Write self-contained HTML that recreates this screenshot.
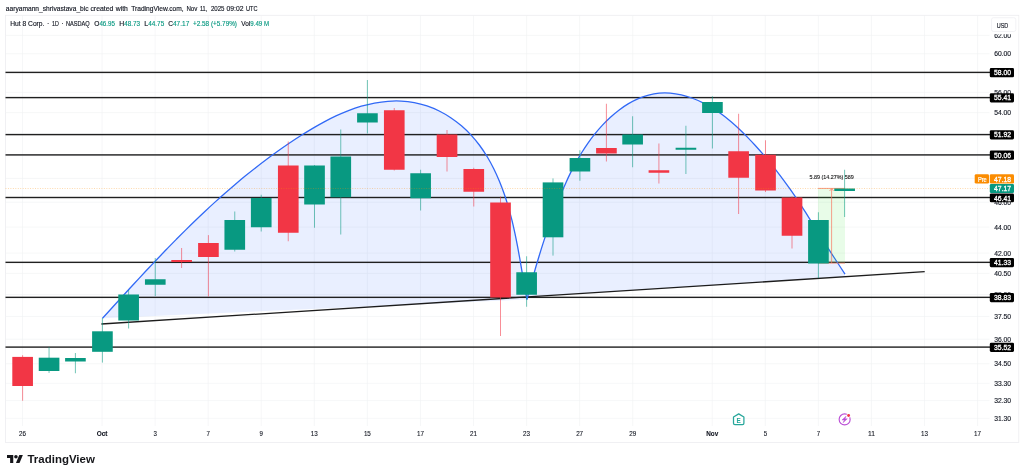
<!DOCTYPE html><html><head><meta charset="utf-8"><title>chart</title><style>html,body{margin:0;padding:0;background:#fff}body{width:1024px;height:476px;overflow:hidden}svg{display:block;will-change:transform}text{font-family:"Liberation Sans",sans-serif}</style></head><body>
<svg width="1024" height="476" viewBox="0 0 1024 476">
<rect width="1024" height="476" fill="#fff"/>
<rect x="5.5" y="15.3" width="1013.3" height="427.1" fill="#fff" stroke="#ededf0" stroke-width="0.8"/>
<g stroke="#f0f1f4" stroke-width="0.6">
<line x1="22.50" y1="15.3" x2="22.50" y2="426.0"/>
<line x1="102.09" y1="15.3" x2="102.09" y2="426.0"/>
<line x1="155.15" y1="15.3" x2="155.15" y2="426.0"/>
<line x1="208.21" y1="15.3" x2="208.21" y2="426.0"/>
<line x1="261.27" y1="15.3" x2="261.27" y2="426.0"/>
<line x1="314.33" y1="15.3" x2="314.33" y2="426.0"/>
<line x1="367.39" y1="15.3" x2="367.39" y2="426.0"/>
<line x1="420.45" y1="15.3" x2="420.45" y2="426.0"/>
<line x1="473.51" y1="15.3" x2="473.51" y2="426.0"/>
<line x1="526.57" y1="15.3" x2="526.57" y2="426.0"/>
<line x1="579.63" y1="15.3" x2="579.63" y2="426.0"/>
<line x1="632.69" y1="15.3" x2="632.69" y2="426.0"/>
<line x1="712.28" y1="15.3" x2="712.28" y2="426.0"/>
<line x1="765.34" y1="15.3" x2="765.34" y2="426.0"/>
<line x1="818.40" y1="15.3" x2="818.40" y2="426.0"/>
<line x1="871.46" y1="15.3" x2="871.46" y2="426.0"/>
<line x1="924.52" y1="15.3" x2="924.52" y2="426.0"/>
<line x1="977.58" y1="15.3" x2="977.58" y2="426.0"/>
<line x1="5.5" y1="35.42" x2="989.5" y2="35.42"/>
<line x1="5.5" y1="53.75" x2="989.5" y2="53.75"/>
<line x1="5.5" y1="72.70" x2="989.5" y2="72.70"/>
<line x1="5.5" y1="92.31" x2="989.5" y2="92.31"/>
<line x1="5.5" y1="112.64" x2="989.5" y2="112.64"/>
<line x1="5.5" y1="133.73" x2="989.5" y2="133.73"/>
<line x1="5.5" y1="155.65" x2="989.5" y2="155.65"/>
<line x1="5.5" y1="178.46" x2="989.5" y2="178.46"/>
<line x1="5.5" y1="202.25" x2="989.5" y2="202.25"/>
<line x1="5.5" y1="227.10" x2="989.5" y2="227.10"/>
<line x1="5.5" y1="253.10" x2="989.5" y2="253.10"/>
<line x1="5.5" y1="273.42" x2="989.5" y2="273.42"/>
<line x1="5.5" y1="294.51" x2="989.5" y2="294.51"/>
<line x1="5.5" y1="316.44" x2="989.5" y2="316.44"/>
<line x1="5.5" y1="339.25" x2="989.5" y2="339.25"/>
<line x1="5.5" y1="363.70" x2="989.5" y2="363.70"/>
<line x1="5.5" y1="383.30" x2="989.5" y2="383.30"/>
<line x1="5.5" y1="400.60" x2="989.5" y2="400.60"/>
<line x1="5.5" y1="418.30" x2="989.5" y2="418.30"/>
</g>
<path d="M102.50 318.30 C104.02 316.63 108.58 311.61 111.63 308.27 C114.67 304.93 117.71 301.60 120.75 298.27 C123.80 294.94 126.84 291.61 129.89 288.29 C132.94 284.98 136.00 281.67 139.06 278.37 C142.13 275.07 145.19 271.78 148.27 268.50 C151.35 265.22 154.44 261.96 157.54 258.70 C160.63 255.45 163.74 252.21 166.87 248.99 C169.99 245.77 173.12 242.56 176.28 239.37 C179.43 236.19 182.59 233.02 185.78 229.87 C188.96 226.72 192.17 223.59 195.39 220.48 C198.61 217.37 201.85 214.29 205.12 211.23 C208.38 208.17 211.67 205.13 214.98 202.12 C218.29 199.11 221.62 196.13 224.98 193.18 C228.35 190.22 231.73 187.30 235.15 184.40 C238.57 181.51 242.01 178.64 245.48 175.81 C248.96 172.98 252.46 170.18 256.00 167.42 C259.54 164.66 263.11 161.93 266.72 159.24 C270.33 156.55 273.97 153.89 277.65 151.28 C281.33 148.66 285.05 146.08 288.80 143.55 C292.56 141.02 296.35 138.52 300.19 136.07 C304.03 133.62 307.91 131.20 311.83 128.87 C315.76 126.53 319.72 124.24 323.74 122.07 C327.76 119.91 331.83 117.82 335.95 115.90 C340.07 113.98 344.24 112.16 348.47 110.54 C352.69 108.92 356.99 107.44 361.32 106.20 C365.66 104.95 370.08 103.88 374.49 103.06 C378.90 102.25 383.37 101.63 387.81 101.30 C392.25 100.97 396.71 100.87 401.11 101.09 C405.52 101.30 409.92 101.77 414.23 102.57 C418.54 103.37 422.81 104.49 426.98 105.90 C431.14 107.30 435.24 109.03 439.20 110.99 C443.16 112.96 447.04 115.21 450.74 117.68 C454.45 120.14 458.04 122.87 461.44 125.78 C464.83 128.68 468.08 131.82 471.12 135.11 C474.17 138.40 477.02 141.89 479.70 145.50 C482.38 149.11 484.87 152.90 487.21 156.77 C489.56 160.64 491.72 164.66 493.76 168.74 C495.79 172.82 497.66 177.01 499.41 181.24 C501.16 185.46 502.77 189.77 504.26 194.08 C505.76 198.38 507.12 202.74 508.40 207.09 C509.67 211.44 510.83 215.81 511.92 220.18 C513.01 224.56 514.00 228.95 514.94 233.34 C515.89 237.74 516.75 242.14 517.60 246.55 C518.44 250.96 519.22 255.37 520.00 259.78 C520.78 264.20 521.51 268.62 522.27 273.03 C523.02 277.45 523.76 281.87 524.53 286.28 C525.30 290.69 526.50 297.30 526.90 299.50 Z" fill="#2962ff" fill-opacity="0.10"/>
<path d="M526.90 299.50 C527.38 297.70 528.79 292.33 529.76 288.73 C530.74 285.13 531.73 281.52 532.74 277.90 C533.75 274.29 534.77 270.67 535.82 267.05 C536.88 263.44 537.95 259.82 539.04 256.20 C540.14 252.59 541.26 248.97 542.40 245.37 C543.55 241.77 544.71 238.17 545.91 234.58 C547.11 231.00 548.33 227.42 549.59 223.87 C550.84 220.31 552.12 216.77 553.43 213.24 C554.75 209.72 556.09 206.22 557.47 202.74 C558.84 199.26 560.25 195.80 561.70 192.38 C563.14 188.95 564.61 185.55 566.14 182.18 C567.67 178.81 569.24 175.47 570.88 172.16 C572.52 168.86 574.21 165.58 576.00 162.34 C577.79 159.10 579.65 155.89 581.62 152.73 C583.59 149.56 585.64 146.42 587.82 143.33 C590.00 140.24 592.29 137.16 594.69 134.18 C597.10 131.20 599.63 128.24 602.25 125.43 C604.87 122.61 607.61 119.86 610.44 117.28 C613.26 114.70 616.19 112.22 619.21 109.95 C622.22 107.69 625.33 105.55 628.52 103.67 C631.71 101.78 634.98 100.07 638.32 98.63 C641.66 97.20 645.09 95.97 648.57 95.06 C652.05 94.15 655.61 93.49 659.22 93.17 C662.83 92.85 666.52 92.86 670.21 93.15 C673.90 93.45 677.66 94.09 681.36 94.94 C685.06 95.78 688.78 96.93 692.40 98.25 C696.01 99.56 699.61 101.12 703.05 102.81 C706.49 104.49 709.83 106.37 713.05 108.36 C716.27 110.34 719.36 112.47 722.37 114.70 C725.38 116.92 728.27 119.27 731.11 121.69 C733.95 124.11 736.70 126.63 739.40 129.20 C742.11 131.76 744.75 134.41 747.36 137.08 C749.96 139.76 752.53 142.48 755.05 145.24 C757.58 148.00 760.07 150.80 762.52 153.64 C764.96 156.47 767.37 159.35 769.75 162.25 C772.12 165.15 774.45 168.09 776.75 171.06 C779.05 174.03 781.31 177.03 783.54 180.05 C785.77 183.07 787.96 186.12 790.11 189.19 C792.27 192.26 794.39 195.36 796.48 198.47 C798.57 201.58 800.62 204.72 802.66 207.86 C804.69 211.00 806.70 214.17 808.70 217.33 C810.70 220.49 812.68 223.67 814.66 226.85 C816.65 230.02 818.62 233.20 820.61 236.37 C822.61 239.54 824.60 242.72 826.61 245.88 C828.62 249.04 830.66 252.18 832.70 255.33 C834.74 258.48 836.81 261.61 838.86 264.76 C840.91 267.90 843.98 272.63 845.00 274.20 L845 276.8 L526.4 297 Z" fill="#2962ff" fill-opacity="0.10"/>
<rect x="5.5" y="71.70" width="984.5" height="1.4" fill="#202020"/>
<rect x="5.5" y="96.90" width="984.5" height="1.4" fill="#202020"/>
<rect x="5.5" y="133.90" width="984.5" height="1.4" fill="#202020"/>
<rect x="5.5" y="154.20" width="984.5" height="1.4" fill="#202020"/>
<rect x="5.5" y="196.80" width="984.5" height="1.4" fill="#202020"/>
<rect x="5.5" y="261.65" width="984.5" height="1.4" fill="#202020"/>
<rect x="5.5" y="296.65" width="984.5" height="1.4" fill="#202020"/>
<rect x="5.5" y="346.40" width="984.5" height="1.4" fill="#202020"/>
<line x1="101.4" y1="324.0" x2="924.7" y2="271.7" stroke="#1c1c1c" stroke-width="1.35"/>
<path d="M102.50 318.30 C104.02 316.63 108.58 311.61 111.63 308.27 C114.67 304.93 117.71 301.60 120.75 298.27 C123.80 294.94 126.84 291.61 129.89 288.29 C132.94 284.98 136.00 281.67 139.06 278.37 C142.13 275.07 145.19 271.78 148.27 268.50 C151.35 265.22 154.44 261.96 157.54 258.70 C160.63 255.45 163.74 252.21 166.87 248.99 C169.99 245.77 173.12 242.56 176.28 239.37 C179.43 236.19 182.59 233.02 185.78 229.87 C188.96 226.72 192.17 223.59 195.39 220.48 C198.61 217.37 201.85 214.29 205.12 211.23 C208.38 208.17 211.67 205.13 214.98 202.12 C218.29 199.11 221.62 196.13 224.98 193.18 C228.35 190.22 231.73 187.30 235.15 184.40 C238.57 181.51 242.01 178.64 245.48 175.81 C248.96 172.98 252.46 170.18 256.00 167.42 C259.54 164.66 263.11 161.93 266.72 159.24 C270.33 156.55 273.97 153.89 277.65 151.28 C281.33 148.66 285.05 146.08 288.80 143.55 C292.56 141.02 296.35 138.52 300.19 136.07 C304.03 133.62 307.91 131.20 311.83 128.87 C315.76 126.53 319.72 124.24 323.74 122.07 C327.76 119.91 331.83 117.82 335.95 115.90 C340.07 113.98 344.24 112.16 348.47 110.54 C352.69 108.92 356.99 107.44 361.32 106.20 C365.66 104.95 370.08 103.88 374.49 103.06 C378.90 102.25 383.37 101.63 387.81 101.30 C392.25 100.97 396.71 100.87 401.11 101.09 C405.52 101.30 409.92 101.77 414.23 102.57 C418.54 103.37 422.81 104.49 426.98 105.90 C431.14 107.30 435.24 109.03 439.20 110.99 C443.16 112.96 447.04 115.21 450.74 117.68 C454.45 120.14 458.04 122.87 461.44 125.78 C464.83 128.68 468.08 131.82 471.12 135.11 C474.17 138.40 477.02 141.89 479.70 145.50 C482.38 149.11 484.87 152.90 487.21 156.77 C489.56 160.64 491.72 164.66 493.76 168.74 C495.79 172.82 497.66 177.01 499.41 181.24 C501.16 185.46 502.77 189.77 504.26 194.08 C505.76 198.38 507.12 202.74 508.40 207.09 C509.67 211.44 510.83 215.81 511.92 220.18 C513.01 224.56 514.00 228.95 514.94 233.34 C515.89 237.74 516.75 242.14 517.60 246.55 C518.44 250.96 519.22 255.37 520.00 259.78 C520.78 264.20 521.51 268.62 522.27 273.03 C523.02 277.45 523.76 281.87 524.53 286.28 C525.30 290.69 526.50 297.30 526.90 299.50" fill="none" stroke="#3169f6" stroke-width="1.3" stroke-linejoin="round"/>
<path d="M526.90 299.50 C527.38 297.70 528.79 292.33 529.76 288.73 C530.74 285.13 531.73 281.52 532.74 277.90 C533.75 274.29 534.77 270.67 535.82 267.05 C536.88 263.44 537.95 259.82 539.04 256.20 C540.14 252.59 541.26 248.97 542.40 245.37 C543.55 241.77 544.71 238.17 545.91 234.58 C547.11 231.00 548.33 227.42 549.59 223.87 C550.84 220.31 552.12 216.77 553.43 213.24 C554.75 209.72 556.09 206.22 557.47 202.74 C558.84 199.26 560.25 195.80 561.70 192.38 C563.14 188.95 564.61 185.55 566.14 182.18 C567.67 178.81 569.24 175.47 570.88 172.16 C572.52 168.86 574.21 165.58 576.00 162.34 C577.79 159.10 579.65 155.89 581.62 152.73 C583.59 149.56 585.64 146.42 587.82 143.33 C590.00 140.24 592.29 137.16 594.69 134.18 C597.10 131.20 599.63 128.24 602.25 125.43 C604.87 122.61 607.61 119.86 610.44 117.28 C613.26 114.70 616.19 112.22 619.21 109.95 C622.22 107.69 625.33 105.55 628.52 103.67 C631.71 101.78 634.98 100.07 638.32 98.63 C641.66 97.20 645.09 95.97 648.57 95.06 C652.05 94.15 655.61 93.49 659.22 93.17 C662.83 92.85 666.52 92.86 670.21 93.15 C673.90 93.45 677.66 94.09 681.36 94.94 C685.06 95.78 688.78 96.93 692.40 98.25 C696.01 99.56 699.61 101.12 703.05 102.81 C706.49 104.49 709.83 106.37 713.05 108.36 C716.27 110.34 719.36 112.47 722.37 114.70 C725.38 116.92 728.27 119.27 731.11 121.69 C733.95 124.11 736.70 126.63 739.40 129.20 C742.11 131.76 744.75 134.41 747.36 137.08 C749.96 139.76 752.53 142.48 755.05 145.24 C757.58 148.00 760.07 150.80 762.52 153.64 C764.96 156.47 767.37 159.35 769.75 162.25 C772.12 165.15 774.45 168.09 776.75 171.06 C779.05 174.03 781.31 177.03 783.54 180.05 C785.77 183.07 787.96 186.12 790.11 189.19 C792.27 192.26 794.39 195.36 796.48 198.47 C798.57 201.58 800.62 204.72 802.66 207.86 C804.69 211.00 806.70 214.17 808.70 217.33 C810.70 220.49 812.68 223.67 814.66 226.85 C816.65 230.02 818.62 233.20 820.61 236.37 C822.61 239.54 824.60 242.72 826.61 245.88 C828.62 249.04 830.66 252.18 832.70 255.33 C834.74 258.48 836.81 261.61 838.86 264.76 C840.91 267.90 843.98 272.63 845.00 274.20" fill="none" stroke="#3169f6" stroke-width="1.3" stroke-linejoin="round"/>
<rect x="818" y="188.2" width="27" height="75" fill="#2fe02f" fill-opacity="0.11"/>
<g stroke="#f8705c" stroke-width="0.75" fill="none" opacity="0.9"><line x1="818" y1="188.4" x2="845" y2="188.4"/><line x1="818" y1="263.1" x2="845" y2="263.1"/><line x1="831.6" y1="263" x2="831.6" y2="188.6"/><path d="M829.6 191 L831.6 188.6 L833.6 191"/></g>
<rect x="22.10" y="355.20" width="1" height="45.55" fill="#f23645" opacity="0.56"/>
<rect x="12.30" y="356.90" width="20.65" height="29.10" fill="#f23645"/>
<rect x="48.55" y="347.00" width="1" height="25.90" fill="#089981" opacity="0.56"/>
<rect x="38.75" y="357.70" width="20.65" height="13.30" fill="#089981"/>
<rect x="74.90" y="353.00" width="1" height="20.25" fill="#089981" opacity="0.56"/>
<rect x="65.10" y="358.00" width="20.65" height="3.50" fill="#089981"/>
<rect x="101.90" y="318.00" width="1" height="44.60" fill="#089981" opacity="0.56"/>
<rect x="92.10" y="331.30" width="20.65" height="20.50" fill="#089981"/>
<rect x="128.10" y="290.00" width="1" height="38.50" fill="#089981" opacity="0.56"/>
<rect x="118.30" y="294.50" width="20.65" height="26.00" fill="#089981"/>
<rect x="154.75" y="258.00" width="1" height="38.00" fill="#089981" opacity="0.56"/>
<rect x="144.95" y="279.25" width="20.65" height="5.50" fill="#089981"/>
<rect x="181.10" y="248.00" width="1" height="20.00" fill="#f23645" opacity="0.56"/>
<rect x="171.30" y="260.00" width="20.65" height="2.00" fill="#f23645"/>
<rect x="207.90" y="235.10" width="1" height="61.40" fill="#f23645" opacity="0.56"/>
<rect x="198.10" y="243.00" width="20.65" height="14.00" fill="#f23645"/>
<rect x="234.25" y="211.50" width="1" height="40.00" fill="#089981" opacity="0.56"/>
<rect x="224.45" y="220.00" width="20.65" height="29.75" fill="#089981"/>
<rect x="260.70" y="194.75" width="1" height="36.75" fill="#089981" opacity="0.56"/>
<rect x="250.90" y="198.00" width="20.65" height="29.25" fill="#089981"/>
<rect x="287.75" y="141.50" width="1" height="99.75" fill="#f23645" opacity="0.56"/>
<rect x="277.95" y="165.50" width="20.65" height="67.25" fill="#f23645"/>
<rect x="314.00" y="165.00" width="1" height="62.75" fill="#089981" opacity="0.56"/>
<rect x="304.20" y="165.50" width="20.65" height="39.00" fill="#089981"/>
<rect x="340.25" y="129.50" width="1" height="105.00" fill="#089981" opacity="0.56"/>
<rect x="330.45" y="156.50" width="20.65" height="40.75" fill="#089981"/>
<rect x="366.90" y="80.00" width="1" height="53.50" fill="#089981" opacity="0.56"/>
<rect x="357.10" y="113.25" width="20.65" height="9.25" fill="#089981"/>
<rect x="393.75" y="108.00" width="1" height="62.50" fill="#f23645" opacity="0.56"/>
<rect x="383.95" y="110.25" width="20.65" height="59.50" fill="#f23645"/>
<rect x="420.10" y="169.75" width="1" height="40.75" fill="#089981" opacity="0.56"/>
<rect x="410.30" y="173.25" width="20.65" height="25.00" fill="#089981"/>
<rect x="446.50" y="130.00" width="1" height="41.50" fill="#f23645" opacity="0.56"/>
<rect x="436.70" y="134.50" width="20.65" height="22.50" fill="#f23645"/>
<rect x="473.25" y="167.75" width="1" height="38.75" fill="#f23645" opacity="0.56"/>
<rect x="463.45" y="169.00" width="20.65" height="22.75" fill="#f23645"/>
<rect x="500.00" y="196.50" width="1" height="139.50" fill="#f23645" opacity="0.56"/>
<rect x="490.20" y="202.50" width="20.65" height="95.00" fill="#f23645"/>
<rect x="526.10" y="256.25" width="1" height="50.50" fill="#089981" opacity="0.56"/>
<rect x="516.30" y="272.25" width="20.65" height="22.50" fill="#089981"/>
<rect x="552.50" y="178.40" width="1" height="77.20" fill="#089981" opacity="0.56"/>
<rect x="542.70" y="182.40" width="20.65" height="54.90" fill="#089981"/>
<rect x="579.40" y="150.25" width="1" height="30.50" fill="#089981" opacity="0.56"/>
<rect x="569.60" y="158.00" width="20.65" height="13.50" fill="#089981"/>
<rect x="605.90" y="103.75" width="1" height="57.75" fill="#f23645" opacity="0.56"/>
<rect x="596.10" y="148.00" width="20.65" height="5.50" fill="#f23645"/>
<rect x="632.10" y="116.25" width="1" height="51.00" fill="#089981" opacity="0.56"/>
<rect x="622.30" y="134.50" width="20.65" height="10.00" fill="#089981"/>
<rect x="658.40" y="143.50" width="1" height="40.00" fill="#f23645" opacity="0.56"/>
<rect x="648.60" y="170.25" width="20.65" height="2.50" fill="#f23645"/>
<rect x="685.40" y="125.75" width="1" height="48.25" fill="#089981" opacity="0.56"/>
<rect x="675.60" y="147.75" width="20.65" height="2.00" fill="#089981"/>
<rect x="711.90" y="96.25" width="1" height="52.25" fill="#089981" opacity="0.56"/>
<rect x="702.10" y="102.00" width="20.65" height="11.00" fill="#089981"/>
<rect x="738.10" y="113.75" width="1" height="100.25" fill="#f23645" opacity="0.56"/>
<rect x="728.30" y="151.25" width="20.65" height="26.50" fill="#f23645"/>
<rect x="765.00" y="140.25" width="1" height="51.75" fill="#f23645" opacity="0.56"/>
<rect x="755.20" y="154.75" width="20.65" height="35.75" fill="#f23645"/>
<rect x="791.50" y="196.50" width="1" height="52.00" fill="#f23645" opacity="0.56"/>
<rect x="781.70" y="197.50" width="20.65" height="38.25" fill="#f23645"/>
<rect x="817.90" y="212.25" width="1" height="65.75" fill="#089981" opacity="0.56"/>
<rect x="808.10" y="220.00" width="20.65" height="43.50" fill="#089981"/>
<rect x="844.10" y="169.75" width="1" height="47.25" fill="#089981" opacity="0.56"/>
<rect x="834.30" y="188.50" width="20.65" height="2.50" fill="#089981"/>
<line x1="5.5" y1="188.6" x2="989.8" y2="188.6" stroke="#fb8c00" stroke-width="0.6" stroke-dasharray="0.95 1.51" opacity="0.62"/>
<text x="809.4" y="178.8" font-size="5.7" fill="#1a1a1a" stroke="#1a1a1a" stroke-width="0.12" textLength="44.4" lengthAdjust="spacingAndGlyphs">5.89 (14.27%) 589</text>
<text x="5.80" y="10.7" font-size="7" fill="#131722" stroke="#131722" stroke-width="0.15" textLength="82.80" lengthAdjust="spacingAndGlyphs">aaryamann_shrivastava_bic</text>
<text x="90.40" y="10.7" font-size="7" fill="#131722" stroke="#131722" stroke-width="0.15" textLength="23.00" lengthAdjust="spacingAndGlyphs">created</text>
<text x="115.80" y="10.7" font-size="7" fill="#131722" stroke="#131722" stroke-width="0.15" textLength="12.10" lengthAdjust="spacingAndGlyphs">with</text>
<text x="131.20" y="10.7" font-size="7" fill="#131722" stroke="#131722" stroke-width="0.15" textLength="52.40" lengthAdjust="spacingAndGlyphs">TradingView.com,</text>
<text x="186.40" y="10.7" font-size="7" fill="#131722" stroke="#131722" stroke-width="0.15" textLength="11.00" lengthAdjust="spacingAndGlyphs">Nov</text>
<text x="199.90" y="10.7" font-size="7" fill="#131722" stroke="#131722" stroke-width="0.15" textLength="7.40" lengthAdjust="spacingAndGlyphs">11,</text>
<text x="210.90" y="10.7" font-size="7" fill="#131722" stroke="#131722" stroke-width="0.15" textLength="13.60" lengthAdjust="spacingAndGlyphs">2025</text>
<text x="226.50" y="10.7" font-size="7" fill="#131722" stroke="#131722" stroke-width="0.15" textLength="17.00" lengthAdjust="spacingAndGlyphs">09:02</text>
<text x="246.00" y="10.7" font-size="7" fill="#131722" stroke="#131722" stroke-width="0.15" textLength="11.50" lengthAdjust="spacingAndGlyphs">UTC</text>
<text x="10.25" y="26.00" font-size="7" fill="#131722" textLength="34.15" lengthAdjust="spacingAndGlyphs" stroke="#131722" stroke-width="0.15">Hut 8 Corp.</text>
<text x="47.30" y="26.00" font-size="7" fill="#131722" textLength="1.70" lengthAdjust="spacingAndGlyphs" stroke="#131722" stroke-width="0.15">·</text>
<text x="52.00" y="26.00" font-size="7" fill="#131722" textLength="6.80" lengthAdjust="spacingAndGlyphs" stroke="#131722" stroke-width="0.15">1D</text>
<text x="61.40" y="26.00" font-size="7" fill="#131722" textLength="1.70" lengthAdjust="spacingAndGlyphs" stroke="#131722" stroke-width="0.15">·</text>
<text x="65.90" y="26.00" font-size="7" fill="#131722" textLength="23.80" lengthAdjust="spacingAndGlyphs" stroke="#131722" stroke-width="0.15">NASDAQ</text>
<text x="94.25" y="26.00" font-size="7" fill="#131722" textLength="5.15" lengthAdjust="spacingAndGlyphs" stroke="#131722" stroke-width="0.15">O</text>
<text x="99.40" y="26.00" font-size="7" fill="#089981" textLength="15.60" lengthAdjust="spacingAndGlyphs" stroke="#089981" stroke-width="0.15">46.95</text>
<text x="119.25" y="26.00" font-size="7" fill="#131722" textLength="4.95" lengthAdjust="spacingAndGlyphs" stroke="#131722" stroke-width="0.15">H</text>
<text x="124.20" y="26.00" font-size="7" fill="#089981" textLength="15.80" lengthAdjust="spacingAndGlyphs" stroke="#089981" stroke-width="0.15">48.73</text>
<text x="144.25" y="26.00" font-size="7" fill="#131722" textLength="3.95" lengthAdjust="spacingAndGlyphs" stroke="#131722" stroke-width="0.15">L</text>
<text x="148.20" y="26.00" font-size="7" fill="#089981" textLength="16.05" lengthAdjust="spacingAndGlyphs" stroke="#089981" stroke-width="0.15">44.75</text>
<text x="168.25" y="26.00" font-size="7" fill="#131722" textLength="4.75" lengthAdjust="spacingAndGlyphs" stroke="#131722" stroke-width="0.15">C</text>
<text x="173.00" y="26.00" font-size="7" fill="#089981" textLength="16.25" lengthAdjust="spacingAndGlyphs" stroke="#089981" stroke-width="0.15">47.17</text>
<text x="193.00" y="26.00" font-size="7" fill="#089981" textLength="44.00" lengthAdjust="spacingAndGlyphs" stroke="#089981" stroke-width="0.15">+2.58 (+5.79%)</text>
<text x="241.25" y="26.00" font-size="7" fill="#131722" textLength="9.05" lengthAdjust="spacingAndGlyphs" stroke="#131722" stroke-width="0.15">Vol</text>
<text x="250.30" y="26.00" font-size="7" fill="#089981" textLength="18.70" lengthAdjust="spacingAndGlyphs" stroke="#089981" stroke-width="0.15">9.49 M</text>
<text x="994.20" y="37.97" font-size="7.2" fill="#131722" textLength="16.90" lengthAdjust="spacingAndGlyphs" stroke="#131722" stroke-width="0.15">62.00</text>
<text x="994.20" y="56.30" font-size="7.2" fill="#131722" textLength="16.90" lengthAdjust="spacingAndGlyphs" stroke="#131722" stroke-width="0.15">60.00</text>
<text x="994.20" y="75.25" font-size="7.2" fill="#131722" textLength="16.90" lengthAdjust="spacingAndGlyphs" stroke="#131722" stroke-width="0.15">58.00</text>
<text x="994.20" y="94.86" font-size="7.2" fill="#131722" textLength="16.90" lengthAdjust="spacingAndGlyphs" stroke="#131722" stroke-width="0.15">56.00</text>
<text x="994.20" y="115.19" font-size="7.2" fill="#131722" textLength="16.90" lengthAdjust="spacingAndGlyphs" stroke="#131722" stroke-width="0.15">54.00</text>
<text x="994.20" y="136.28" font-size="7.2" fill="#131722" textLength="16.90" lengthAdjust="spacingAndGlyphs" stroke="#131722" stroke-width="0.15">52.00</text>
<text x="994.20" y="158.20" font-size="7.2" fill="#131722" textLength="16.90" lengthAdjust="spacingAndGlyphs" stroke="#131722" stroke-width="0.15">50.00</text>
<text x="994.20" y="181.01" font-size="7.2" fill="#131722" textLength="16.90" lengthAdjust="spacingAndGlyphs" stroke="#131722" stroke-width="0.15">48.00</text>
<text x="994.20" y="204.80" font-size="7.2" fill="#131722" textLength="16.90" lengthAdjust="spacingAndGlyphs" stroke="#131722" stroke-width="0.15">46.00</text>
<text x="994.20" y="229.65" font-size="7.2" fill="#131722" textLength="16.90" lengthAdjust="spacingAndGlyphs" stroke="#131722" stroke-width="0.15">44.00</text>
<text x="994.20" y="255.65" font-size="7.2" fill="#131722" textLength="16.90" lengthAdjust="spacingAndGlyphs" stroke="#131722" stroke-width="0.15">42.00</text>
<text x="994.20" y="275.97" font-size="7.2" fill="#131722" textLength="16.90" lengthAdjust="spacingAndGlyphs" stroke="#131722" stroke-width="0.15">40.50</text>
<text x="994.20" y="297.06" font-size="7.2" fill="#131722" textLength="16.90" lengthAdjust="spacingAndGlyphs" stroke="#131722" stroke-width="0.15">39.00</text>
<text x="994.20" y="318.99" font-size="7.2" fill="#131722" textLength="16.90" lengthAdjust="spacingAndGlyphs" stroke="#131722" stroke-width="0.15">37.50</text>
<text x="994.20" y="341.80" font-size="7.2" fill="#131722" textLength="16.90" lengthAdjust="spacingAndGlyphs" stroke="#131722" stroke-width="0.15">36.00</text>
<text x="994.20" y="366.25" font-size="7.2" fill="#131722" textLength="16.90" lengthAdjust="spacingAndGlyphs" stroke="#131722" stroke-width="0.15">34.50</text>
<text x="994.20" y="385.85" font-size="7.2" fill="#131722" textLength="16.90" lengthAdjust="spacingAndGlyphs" stroke="#131722" stroke-width="0.15">33.30</text>
<text x="994.20" y="403.15" font-size="7.2" fill="#131722" textLength="16.90" lengthAdjust="spacingAndGlyphs" stroke="#131722" stroke-width="0.15">32.30</text>
<text x="994.20" y="420.85" font-size="7.2" fill="#131722" textLength="16.90" lengthAdjust="spacingAndGlyphs" stroke="#131722" stroke-width="0.15">31.30</text>
<rect x="990.2" y="16" width="28" height="18.2" fill="#fff"/>
<rect x="991.5" y="17.7" width="24.3" height="13.8" rx="2" fill="#fff" stroke="#ecedf1" stroke-width="0.7"/>
<text x="996.70" y="27.50" font-size="7.2" fill="#131722" textLength="11.60" lengthAdjust="spacingAndGlyphs" stroke="#131722" stroke-width="0.15">USD</text>
<rect x="989.8" y="68.10" width="24.2" height="9.10" rx="1.3" fill="#000"/>
<text x="994.1" y="75.15" font-size="6.8" fill="#fff" stroke="#fff" stroke-width="0.26" textLength="17" lengthAdjust="spacingAndGlyphs">58.00</text>
<rect x="989.8" y="93.30" width="24.2" height="9.10" rx="1.3" fill="#000"/>
<text x="994.1" y="100.35" font-size="6.8" fill="#fff" stroke="#fff" stroke-width="0.26" textLength="17" lengthAdjust="spacingAndGlyphs">55.41</text>
<rect x="989.8" y="130.30" width="24.2" height="9.10" rx="1.3" fill="#000"/>
<text x="994.1" y="137.35" font-size="6.8" fill="#fff" stroke="#fff" stroke-width="0.26" textLength="17" lengthAdjust="spacingAndGlyphs">51.92</text>
<rect x="989.8" y="150.60" width="24.2" height="9.10" rx="1.3" fill="#000"/>
<text x="994.1" y="157.65" font-size="6.8" fill="#fff" stroke="#fff" stroke-width="0.26" textLength="17" lengthAdjust="spacingAndGlyphs">50.06</text>
<rect x="989.8" y="258.05" width="24.2" height="9.10" rx="1.3" fill="#000"/>
<text x="994.1" y="265.10" font-size="6.8" fill="#fff" stroke="#fff" stroke-width="0.26" textLength="17" lengthAdjust="spacingAndGlyphs">41.33</text>
<rect x="989.8" y="293.05" width="24.2" height="9.10" rx="1.3" fill="#000"/>
<text x="994.1" y="300.10" font-size="6.8" fill="#fff" stroke="#fff" stroke-width="0.26" textLength="17" lengthAdjust="spacingAndGlyphs">38.83</text>
<rect x="989.8" y="342.80" width="24.2" height="9.10" rx="1.3" fill="#000"/>
<text x="994.1" y="349.85" font-size="6.8" fill="#fff" stroke="#fff" stroke-width="0.26" textLength="17" lengthAdjust="spacingAndGlyphs">35.52</text>
<rect x="974.7" y="174.2" width="14.3" height="9.4" rx="1.4" fill="#fb8c00"/>
<text x="977.9" y="181.5" font-size="6.8" fill="#fff" stroke="#fff" stroke-width="0.22" textLength="8.9" lengthAdjust="spacingAndGlyphs">Pre</text>
<rect x="989.8" y="174.20" width="24.2" height="9.40" rx="1.3" fill="#fb8c00"/>
<text x="994.1" y="181.60" font-size="6.8" fill="#fff" stroke="#fff" stroke-width="0.26" textLength="17" lengthAdjust="spacingAndGlyphs">47.18</text>
<rect x="989.8" y="183.90" width="24.2" height="9.20" rx="1.3" fill="#089981"/>
<text x="994.1" y="191.00" font-size="6.8" fill="#fff" stroke="#fff" stroke-width="0.26" textLength="17" lengthAdjust="spacingAndGlyphs">47.17</text>
<rect x="989.8" y="193.40" width="24.2" height="8.80" rx="1.3" fill="#000"/>
<text x="994.1" y="200.70" font-size="6.8" fill="#fff" stroke="#fff" stroke-width="0.26" textLength="17" lengthAdjust="spacingAndGlyphs">46.41</text>
<text x="19.00" y="436.45" font-size="7.2" fill="#131722" stroke="#131722" stroke-width="0.12" textLength="7.0" lengthAdjust="spacingAndGlyphs">26</text>
<text x="96.69" y="436.45" font-size="7.2" fill="#131722" stroke="#131722" stroke-width="0.12" textLength="10.8" lengthAdjust="spacingAndGlyphs" font-weight="bold">Oct</text>
<text x="153.45" y="436.45" font-size="7.2" fill="#131722" stroke="#131722" stroke-width="0.12" textLength="3.4" lengthAdjust="spacingAndGlyphs">3</text>
<text x="206.51" y="436.45" font-size="7.2" fill="#131722" stroke="#131722" stroke-width="0.12" textLength="3.4" lengthAdjust="spacingAndGlyphs">7</text>
<text x="259.57" y="436.45" font-size="7.2" fill="#131722" stroke="#131722" stroke-width="0.12" textLength="3.4" lengthAdjust="spacingAndGlyphs">9</text>
<text x="310.83" y="436.45" font-size="7.2" fill="#131722" stroke="#131722" stroke-width="0.12" textLength="7.0" lengthAdjust="spacingAndGlyphs">13</text>
<text x="363.89" y="436.45" font-size="7.2" fill="#131722" stroke="#131722" stroke-width="0.12" textLength="7.0" lengthAdjust="spacingAndGlyphs">15</text>
<text x="416.95" y="436.45" font-size="7.2" fill="#131722" stroke="#131722" stroke-width="0.12" textLength="7.0" lengthAdjust="spacingAndGlyphs">17</text>
<text x="470.01" y="436.45" font-size="7.2" fill="#131722" stroke="#131722" stroke-width="0.12" textLength="7.0" lengthAdjust="spacingAndGlyphs">21</text>
<text x="523.07" y="436.45" font-size="7.2" fill="#131722" stroke="#131722" stroke-width="0.12" textLength="7.0" lengthAdjust="spacingAndGlyphs">23</text>
<text x="576.13" y="436.45" font-size="7.2" fill="#131722" stroke="#131722" stroke-width="0.12" textLength="7.0" lengthAdjust="spacingAndGlyphs">27</text>
<text x="629.19" y="436.45" font-size="7.2" fill="#131722" stroke="#131722" stroke-width="0.12" textLength="7.0" lengthAdjust="spacingAndGlyphs">29</text>
<text x="706.28" y="436.45" font-size="7.2" fill="#131722" stroke="#131722" stroke-width="0.12" textLength="12.0" lengthAdjust="spacingAndGlyphs" font-weight="bold">Nov</text>
<text x="763.64" y="436.45" font-size="7.2" fill="#131722" stroke="#131722" stroke-width="0.12" textLength="3.4" lengthAdjust="spacingAndGlyphs">5</text>
<text x="816.70" y="436.45" font-size="7.2" fill="#131722" stroke="#131722" stroke-width="0.12" textLength="3.4" lengthAdjust="spacingAndGlyphs">7</text>
<text x="867.96" y="436.45" font-size="7.2" fill="#131722" stroke="#131722" stroke-width="0.12" textLength="7.0" lengthAdjust="spacingAndGlyphs">11</text>
<text x="921.02" y="436.45" font-size="7.2" fill="#131722" stroke="#131722" stroke-width="0.12" textLength="7.0" lengthAdjust="spacingAndGlyphs">13</text>
<text x="974.08" y="436.45" font-size="7.2" fill="#131722" stroke="#131722" stroke-width="0.12" textLength="7.0" lengthAdjust="spacingAndGlyphs">17</text>
<g transform="translate(738.7,419.3)"><path d="M-5.2 -2.3 L0 -5.4 L5.2 -2.3 L5.2 3.9 Q5.2 5.3 3.8 5.3 L-3.8 5.3 Q-5.2 5.3 -5.2 3.9 Z" fill="#fff" stroke="#26a69a" stroke-width="1.25" stroke-linejoin="round"/><text x="0" y="3.2" font-size="6.4" font-weight="bold" fill="#26a69a" text-anchor="middle">E</text></g>
<g transform="translate(844.65,419.4)"><circle r="5.5" fill="#fff" stroke="#bb4fd6" stroke-width="1.15"/><path d="M1.6 -3.3 L-2.7 0.6 L-0.2 0.6 L-1.6 3.3 L2.7 -0.6 L0.2 -0.6 Z" fill="#bb4fd6" stroke="#bb4fd6" stroke-width="0.45" stroke-linejoin="round"/><circle cx="3.95" cy="-3.9" r="2.2" fill="#fff"/><circle cx="3.95" cy="-3.9" r="1.45" fill="#f23645"/></g>
<g transform="translate(7,453.1) scale(0.447)" fill="#15161a"><path d="M14 22H7V11H0V4h14v18z"/><circle cx="20" cy="8" r="4"/><path d="M28 22h-8l7.5-18h8L28 22z"/></g>
<text x="27.5" y="462.6" font-size="11.3" font-weight="bold" fill="#15161a" textLength="67.3" lengthAdjust="spacingAndGlyphs">TradingView</text>
</svg></body></html>
